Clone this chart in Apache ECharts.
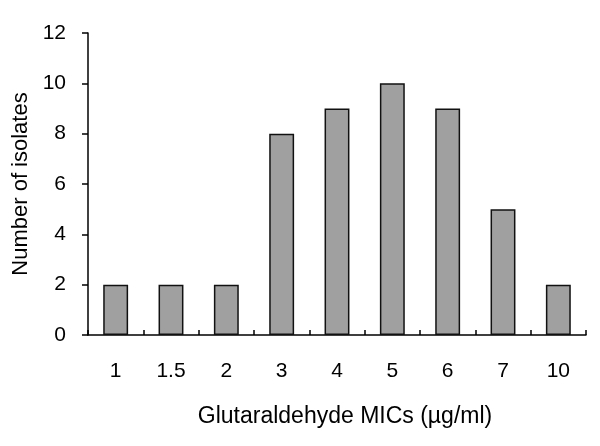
<!DOCTYPE html>
<html><head><meta charset="utf-8">
<script src="https://cdn.jsdelivr.net/npm/echarts@6/dist/echarts.min.js"></script>
<style>html,body{margin:0;padding:0;background:#fff}#c{width:600px;height:446px}</style>
</head><body><div id="c"></div>
<script>
const categories = ['1','1.5','2','3','4','5','6','7','10'];
const isolates = [2,2,2,8,9,10,9,5,2];
const yTicks = [0,2,4,6,8,10,12];
const xTitle = 'Glutaraldehyde MICs (µg/ml)';
const yTitle = 'Number of isolates';

const chart = echarts.init(document.getElementById('c'), null, {renderer:'canvas'});
const font = 'Liberation Sans, Arial, sans-serif';
chart.setOption({
  animation:false,
  backgroundColor:'#fff',
  grid:{left:88,right:14,top:33,bottom:111,containLabel:false},
  xAxis:{
    type:'category', data:categories, boundaryGap:true,
    axisLine:{lineStyle:{color:'#000',width:1.5}},
    axisTick:{show:true,inside:true,length:5,alignWithLabel:false,lineStyle:{color:'#000',width:1.5}},
    axisLabel:{color:'#000',fontSize:21,fontFamily:font,margin:26},
    name:xTitle, nameLocation:'middle', nameGap:70,
    nameTextStyle:{color:'#000',fontSize:23,fontFamily:font,padding:[0,0,0,16]}
  },
  yAxis:{
    type:'value', min:0, max:12, interval:2,
    axisLine:{show:true,lineStyle:{color:'#000',width:1.5}},
    axisTick:{show:true,length:6,lineStyle:{color:'#000',width:1.5}},
    splitLine:{show:false},
    axisLabel:{color:'#000',fontSize:21,fontFamily:font,margin:22,
      formatter:v=>yTicks.includes(v)?String(v):''},
    name:yTitle, nameLocation:'middle', nameGap:55,
    nameTextStyle:{color:'#000',fontSize:22,fontFamily:font}
  },
  series:[{
    type:'bar', data:isolates, barWidth:'45%',
    itemStyle:{color:'#a0a0a0',borderColor:'#111',borderWidth:1.5}
  }]
});
</script></body></html>
